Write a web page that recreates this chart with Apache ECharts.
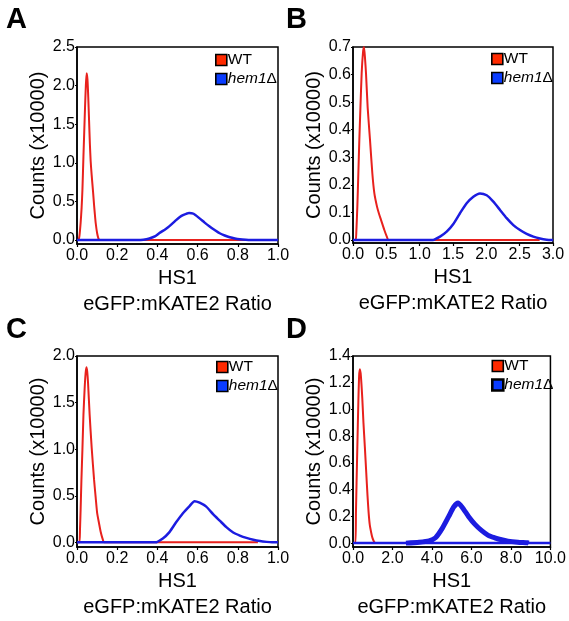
<!DOCTYPE html>
<html><head><meta charset="utf-8">
<script src="https://cdn.jsdelivr.net/npm/echarts@6/dist/echarts.min.js"></script>
<style>html,body{margin:0;padding:0;background:#fff}#c{width:569px;height:621px}</style>
</head><body><div id="c"></div>
<script>
// ---- data ([ratio, counts x10000]) ----
const wtA = [[0,0],[0.007,0],[0.012,0.05],[0.018,0.22],[0.023,0.42],[0.027,0.65],[0.032,1.08],[0.036,1.4],[0.04,1.72],[0.044,2.0],[0.048,2.16],[0.052,2.08],[0.056,1.85],[0.06,1.55],[0.064,1.25],[0.068,1.02],[0.073,0.84],[0.08,0.62],[0.085,0.45],[0.089,0.33],[0.093,0.22],[0.10,0.09],[0.106,0.025],[0.112,0],[0.85,0]];
const hemA = [[0,0],[0.30,0],[0.33,0.004],[0.36,0.02],[0.39,0.05],[0.41,0.09],[0.44,0.14],[0.46,0.18],[0.49,0.25],[0.51,0.295],[0.53,0.325],[0.557,0.35],[0.58,0.34],[0.61,0.28],[0.635,0.225],[0.66,0.175],[0.685,0.13],[0.71,0.087],[0.735,0.058],[0.76,0.035],[0.785,0.02],[0.81,0.01],[0.84,0.004],[0.87,0.001],[0.90,0],[1.0,0]];
const wtB = [[0,0],[0.04,0],[0.05,0.03],[0.065,0.12],[0.08,0.24],[0.095,0.363],[0.11,0.47],[0.13,0.605],[0.15,0.68],[0.165,0.70],[0.18,0.66],[0.195,0.605],[0.22,0.48],[0.255,0.363],[0.29,0.242],[0.32,0.17],[0.36,0.121],[0.39,0.095],[0.42,0.073],[0.47,0.036],[0.51,0.01],[0.53,0],[2.8,0]];
const hemB = [[0,0],[1.2,0],[1.305,0.012],[1.405,0.03],[1.505,0.058],[1.605,0.097],[1.705,0.133],[1.805,0.157],[1.905,0.169],[2.005,0.162],[2.105,0.139],[2.205,0.109],[2.305,0.079],[2.405,0.054],[2.505,0.036],[2.605,0.022],[2.705,0.012],[2.805,0.005],[2.905,0.001],[3.0,0]];
const wtC = [[0,0],[0.012,0],[0.015,0.146],[0.018,0.35],[0.022,0.67],[0.027,1.0],[0.032,1.365],[0.038,1.65],[0.043,1.82],[0.047,1.88],[0.051,1.83],[0.055,1.71],[0.063,1.365],[0.073,1.017],[0.085,0.67],[0.093,0.48],[0.10,0.32],[0.11,0.2],[0.118,0.11],[0.127,0.04],[0.135,0],[0.9,0]];
const hemC = [[0,0],[0.39,0],[0.427,0.042],[0.46,0.11],[0.493,0.215],[0.527,0.313],[0.56,0.39],[0.585,0.442],[0.61,0.425],[0.643,0.383],[0.677,0.303],[0.71,0.233],[0.743,0.163],[0.777,0.105],[0.81,0.073],[0.843,0.048],[0.877,0.028],[0.91,0.014],[0.943,0.005],[0.97,0],[1.0,0]];
const wtD = [[0,0],[0.12,0],[0.15,0.233],[0.18,0.45],[0.22,0.72],[0.27,1.05],[0.31,1.25],[0.35,1.30],[0.40,1.25],[0.47,1.085],[0.53,0.9],[0.6,0.72],[0.67,0.53],[0.735,0.355],[0.79,0.23],[0.85,0.136],[0.92,0.08],[0.985,0.039],[1.06,0.012],[1.13,0],[7.5,0]];
const hemDbase = [[0,0],[10,0]];
const hemD = [[2.68,0],[3.35,0.007],[3.85,0.017],[4.18,0.04],[4.52,0.11],[4.85,0.2],[5.1,0.27],[5.32,0.30],[5.52,0.27],[5.85,0.2],[6.18,0.14],[6.52,0.093],[6.85,0.058],[7.18,0.04],[7.52,0.025],[7.85,0.015],[8.35,0.007],[8.85,0.002],[8.9,0]];

const xTicksA = [0,0.2,0.4,0.6,0.8,1.0];
const xTicksB = [0,0.5,1.0,1.5,2.0,2.5,3.0];
const xTicksC = [0,0.2,0.4,0.6,0.8,1.0];
const xTicksD = [0,2,4,6,8,10];
const yTicksA = [0,0.5,1.0,1.5,2.0,2.5];
const yTicksB = [0,0.1,0.2,0.3,0.4,0.5,0.6,0.7];
const yTicksC = [0,0.5,1.0,1.5,2.0];
const yTicksD = [0,0.2,0.4,0.6,0.8,1.0,1.2,1.4];
const panelLetters = ['A','B','C','D'];
const seriesNames = ['WT','hem1Δ'];

// ---- layout / style ----
const FONT = 'Liberation Sans, Arial, sans-serif';
const RED = '#e8211d', BLUE = '#1c1ce0';
const LEG_RED = '#ff2a00', LEG_BLUE = '#0a3cff';
const grids = [
  {left:77, top:47, width:201, height:197},
  {left:353, top:47, width:200, height:196},
  {left:77, top:356, width:201, height:196},
  {left:353, top:356, width:200, height:197}
];
const xT = [xTicksA,xTicksB,xTicksC,xTicksD];
const yT = [yTicksA,yTicksB,yTicksC,yTicksD];
const yMin = [-0.052,-0.011,-0.05,-0.029];
const legPos = [[215,52],[491,51],[216,359],[491,358]];
const letterPos = [[6,5],[286,5],[6,315],[286,315]];

const option = {
  animation:false,
  backgroundColor:'#fff',
  textStyle:{fontFamily:FONT},
  title: panelLetters.map((t,i)=>({text:t,left:letterPos[i][0],top:letterPos[i][1],padding:0,
    textStyle:{fontSize:29,fontWeight:'bold',color:'#000',fontFamily:FONT}})),
  grid: grids.map(g=>Object.assign({show:true,borderColor:'#000',borderWidth:1.5,backgroundColor:'transparent'},g)),
  xAxis: xT.map((ticks,i)=>({
    type:'value', gridIndex:i, min:ticks[0], max:ticks[ticks.length-1],
    name:'HS1\neGFP:mKATE2 Ratio', nameLocation:'middle', nameGap:21,
    nameTextStyle:{fontSize:20,color:'#000',lineHeight:26,verticalAlign:'top',fontFamily:FONT},
    axisLine:{show:true,onZero:false,lineStyle:{color:'#000',width:1.5}},
    axisTick:{show:true,length:3,customValues:ticks,lineStyle:{color:'#000',width:1.2}},
    axisLabel:{customValues:ticks,fontSize:16,color:'#000',margin:4,fontFamily:FONT,
      formatter:v=>v.toFixed(1)},
    splitLine:{show:false}
  })),
  yAxis: yT.map((ticks,i)=>({
    type:'value', gridIndex:i, min:yMin[i], max:ticks[ticks.length-1],
    name:'Counts (x10000)', nameLocation:'middle', nameGap:25,
    nameTextStyle:{fontSize:20,color:'#000',fontFamily:FONT},
    axisLine:{show:true,lineStyle:{color:'#000',width:1.5}},
    axisTick:{show:true,length:2,customValues:ticks,lineStyle:{color:'#000',width:1.2}},
    axisLabel:{customValues:ticks,fontSize:16,color:'#000',margin:2,fontFamily:FONT,
      formatter:v=>v.toFixed(1)},
    splitLine:{show:false}
  })),
  legend: legPos.map((p,i)=>({
    left:p[0], top:p[1], orient:'vertical', padding:0, itemGap:3, itemWidth:11, itemHeight:11,
    icon:'rect', selectedMode:false,
    data:[
      {name:seriesNames[0], itemStyle:{color:LEG_RED,borderColor:'#000',borderWidth:1.6}},
      {name:seriesNames[1], itemStyle:{color:LEG_BLUE,borderColor:'#000',borderWidth:i===3?2.6:1.6}}
    ],
    formatter:n=> n==='WT' ? '{n|WT}' : '{i|hem1}{n|Δ}',
    textStyle:{padding:[0,0,0,-4],rich:{
      n:{fontSize:15.5,color:'#000',fontFamily:FONT},
      i:{fontSize:15.5,color:'#000',fontStyle:'italic',fontFamily:FONT}}}
  }))
};

const wt = [wtA,wtB,wtC,wtD], hem=[hemA,hemB,hemC,hemD];
option.series = [];
for(let i=0;i<4;i++){
  option.series.push({name:seriesNames[0],type:'line',xAxisIndex:i,yAxisIndex:i,data:wt[i],
    showSymbol:false,smooth:0.2,lineStyle:{color:RED,width:2},itemStyle:{color:RED},z:2});
  if(i===3){
    option.series.push({name:seriesNames[1],type:'line',xAxisIndex:i,yAxisIndex:i,data:hemDbase,
      showSymbol:false,lineStyle:{color:BLUE,width:2.5},itemStyle:{color:BLUE},z:3});
    option.series.push({name:seriesNames[1],type:'line',xAxisIndex:i,yAxisIndex:i,data:hemD,
      showSymbol:false,smooth:0.2,lineStyle:{color:BLUE,width:5},itemStyle:{color:BLUE},z:3});
  } else {
    option.series.push({name:seriesNames[1],type:'line',xAxisIndex:i,yAxisIndex:i,data:hem[i],
      showSymbol:false,smooth:0.2,lineStyle:{color:BLUE,width:2.5},itemStyle:{color:BLUE},z:3});
  }
}
const chart = echarts.init(document.getElementById('c'),null,{renderer:'canvas'});
chart.setOption(option);
</script></body></html>
